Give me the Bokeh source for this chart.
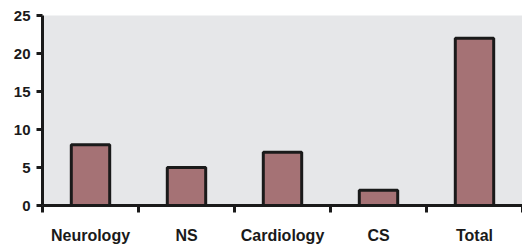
from bokeh.plotting import figure
from bokeh.models import Range1d, FixedTicker, ColumnDataSource
from bokeh.embed import file_html
from bokeh.resources import INLINE

categories = ["Neurology", "NS", "Cardiology", "CS", "Total"]
counts = [8, 5, 7, 2, 22]
y_ticks = [0, 5, 10, 15, 20, 25]

positions = [i + 0.5 for i in range(len(categories))]
boundaries = list(range(len(categories) + 1))

src = ColumnDataSource(dict(x=positions, top=counts, cat=categories))

p = figure(width=522, height=246, output_backend="svg", toolbar_location=None,
           x_range=Range1d(0, len(categories)), y_range=Range1d(0, 25),
           min_border_left=42, min_border_right=0, min_border_top=15, min_border_bottom=39)

p.background_fill_color = "#e6e7e9"
p.border_fill_color = "white"
p.outline_line_color = None
p.grid.visible = False

p.vbar(x="x", top="top", bottom=0, width=0.4, source=src,
       fill_color="#a57275", line_color="#1a1a1a", line_width=3)

ax = p.xaxis[0]
ax.ticker = FixedTicker(ticks=positions, minor_ticks=boundaries)
ax.major_label_overrides = {pos: c for pos, c in zip(positions, categories)}
ax.major_tick_out = 0
ax.major_tick_in = 0
ax.minor_tick_out = 7
ax.minor_tick_in = 0
ax.minor_tick_line_width = 3
ax.minor_tick_line_color = "#1a1a1a"
ax.axis_line_width = 3
ax.axis_line_color = "#1a1a1a"
ax.major_label_standoff = 14
ax.major_label_text_font = "Liberation Sans"
ax.major_label_text_font_style = "bold"
ax.major_label_text_font_size = "16px"
ax.major_label_text_color = "#1a1a1a"

ay = p.yaxis[0]
ay.ticker = FixedTicker(ticks=y_ticks)
ay.major_tick_out = 6
ay.major_tick_in = 0
ay.minor_tick_out = 0
ay.minor_tick_in = 0
ay.major_tick_line_width = 3
ay.major_tick_line_color = "#1a1a1a"
ay.axis_line_width = 3
ay.axis_line_color = "#1a1a1a"
ay.major_label_standoff = 6
ay.major_label_text_font = "Liberation Sans"
ay.major_label_text_font_style = "bold"
ay.major_label_text_font_size = "15px"
ay.major_label_text_color = "#1a1a1a"

open("out.html", "w").write(file_html(p, INLINE))
